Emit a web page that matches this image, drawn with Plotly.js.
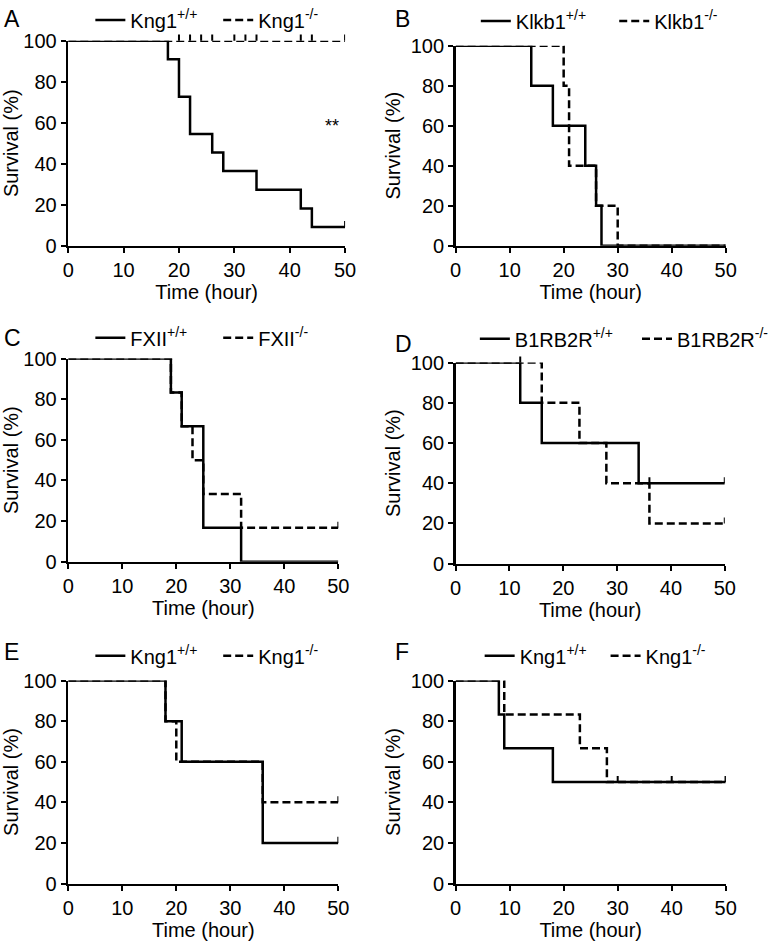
<!DOCTYPE html>
<html>
<head>
<meta charset="utf-8">
<script src="https://cdn.plot.ly/plotly-3.0.1.min.js"></script>
<style>body{margin:0;background:#fff}</style>
</head>
<body>
<div id="chart" style="width:774px;height:941px"></div>
<script>
// survival curves (time in hours, survival in %)
var endTime = 50;

// A
var aWtTime = [0, 18, 20, 22, 26, 28, 34, 42, 44];
var aWtSurv = [100, 90.9, 72.7, 54.5, 45.5, 36.4, 27.3, 18.2, 9.1];
var aWtCens = [50];
var aKoTime = [0];
var aKoSurv = [100];
var aKoCens = [20, 22, 24, 26, 30, 32, 34, 42, 44, 50];

// B
var bWtTime = [0, 14, 18, 24, 26, 27];
var bWtSurv = [100, 80, 60, 40, 20, 0];
var bWtCens = [];
var bKoTime = [0, 20, 21, 26, 30];
var bKoSurv = [100, 80, 40, 20, 0];
var bKoCens = [];

// C
var cWtTime = [0, 19, 21, 25, 32];
var cWtSurv = [100, 83.3, 66.7, 16.7, 0];
var cWtCens = [];
var cKoTime = [0, 19, 21, 23, 25, 32];
var cKoSurv = [100, 83.3, 66.7, 50, 33.3, 16.7];
var cKoCens = [50];

// D
var dWtTime = [0, 12, 16, 34];
var dWtSurv = [100, 80, 60, 40];
var dWtCens = [12, 50];
var dKoTime = [0, 16, 23, 28, 36];
var dKoSurv = [100, 80, 60, 40, 20];
var dKoCens = [36, 50];

// E
var eWtTime = [0, 18, 21, 36];
var eWtSurv = [100, 80, 60, 20];
var eWtCens = [50];
var eKoTime = [0, 18, 20, 36];
var eKoSurv = [100, 80, 60, 40];
var eKoCens = [50];

// F
var fWtTime = [0, 8, 9, 18];
var fWtSurv = [100, 83.3, 66.7, 50];
var fWtCens = [30, 40, 50];
var fKoTime = [0, 9, 23, 28];
var fKoSurv = [100, 83.3, 66.7, 50];
var fKoCens = [50];

var letters = ['A', 'B', 'C', 'D', 'E', 'F'];
var wtNames = ['Kng1<sup>+/+</sup>', 'Klkb1<sup>+/+</sup>', 'FXII<sup>+/+</sup>',
               'B1RB2R<sup>+/+</sup>', 'Kng1<sup>+/+</sup>', 'Kng1<sup>+/+</sup>'];
var koNames = ['Kng1<sup>-/-</sup>', 'Klkb1<sup>-/-</sup>', 'FXII<sup>-/-</sup>',
               'B1RB2R<sup>-/-</sup>', 'Kng1<sup>-/-</sup>', 'Kng1<sup>-/-</sup>'];

var groups = [
  {wt: [aWtTime, aWtSurv, aWtCens], ko: [aKoTime, aKoSurv, aKoCens]},
  {wt: [bWtTime, bWtSurv, bWtCens], ko: [bKoTime, bKoSurv, bKoCens]},
  {wt: [cWtTime, cWtSurv, cWtCens], ko: [cKoTime, cKoSurv, cKoCens]},
  {wt: [dWtTime, dWtSurv, dWtCens], ko: [dKoTime, dKoSurv, dKoCens]},
  {wt: [eWtTime, eWtSurv, eWtCens], ko: [eKoTime, eKoSurv, eKoCens]},
  {wt: [fWtTime, fWtSurv, fWtCens], ko: [fKoTime, fKoSurv, fKoCens]}
];

// pixel boxes of each plot area: [left, right, top, bottom]
var W = 774, H = 941;
var boxes = [
  [71, 359, 32, 239],
  [474, 755, 37, 239],
  [71, 352, 353, 558],
  [474, 754, 357, 560],
  [71, 352, 678, 883],
  [474, 755, 678, 883]
];
// legend sample start (px) for the solid and dashed entries, and row height
var legendWt = [99, 500, 99, 499, 99, 504];
var legendKo = [232, 644, 232, 668, 232, 635];
var legendRow = [11, 12, 332, 333, 653, 653];
var letterPos = [[2, 10], [409, 10], [2, 332], [409, 338], [2, 649], [409, 649]];

var font = 'Liberation Sans, Arial, sans-serif';
var fs = 20;
var tickHeight = 3;   // censor tick, in % units
var headroom = 12;    // px of extra room above 100 for censor ticks

function survBefore(times, surv, t) {
  var v = surv[0];
  for (var i = 0; i < times.length; i++) {
    if (times[i] < t) v = surv[i];
  }
  return v;
}

var data = [];
var layout = {
  width: W, height: H,
  margin: {l: 0, r: 0, t: 0, b: 0},
  paper_bgcolor: '#fff', plot_bgcolor: 'rgba(0,0,0,0)',
  font: {family: font, size: fs, color: '#000'},
  annotations: []
};

function legendBox(px, py) {
  return {
    orientation: 'h', x: (px - 5) / W, y: 1 - py / H,
    xanchor: 'left', yanchor: 'middle',
    bgcolor: 'rgba(0,0,0,0)', borderwidth: 0,
    font: {family: font, size: fs, color: '#000'}
  };
}

groups.forEach(function (g, i) {
  var n = i + 1;
  var xa = 'x' + (n === 1 ? '' : n), ya = 'y' + (n === 1 ? '' : n);
  var yc = 'y' + (n + 6);   // taller hidden axis used for the censor ticks
  var legWt = 'legend' + (2 * i + 1 === 1 ? '' : 2 * i + 1);
  var legKo = 'legend' + (2 * i + 2);
  layout[legWt] = legendBox(legendWt[i], legendRow[i]);
  layout[legKo] = legendBox(legendKo[i], legendRow[i]);

  // dashed first so the solid curve sits on top where they overlap
  var sets = [['ko', 'dash', koNames[i], legKo], ['wt', 'solid', wtNames[i], legWt]];
  sets.forEach(function (s) {
    var d = g[s[0]];
    var times = d[0], surv = d[1], cens = d[2];
    data.push({
      x: times.concat([endTime]),
      y: surv.concat([surv[surv.length - 1]]),
      xaxis: xa, yaxis: ya, legend: s[3], name: s[2],
      mode: 'lines',
      line: {shape: 'hv', color: '#000', width: 2.5, dash: s[1] === 'dash' ? '8px,4px' : 'solid'},
      hoverinfo: 'skip'
    });
    if (cens.length) {
      data.push({
        x: cens,
        y: cens.map(function (t) { return survBefore(times, surv, t); }),
        xaxis: xa, yaxis: yc, showlegend: false,
        mode: 'markers', cliponaxis: false,
        marker: {size: 1, opacity: 0},
        error_y: {
          type: 'data', symmetric: false,
          array: cens.map(function () { return tickHeight; }),
          arrayminus: cens.map(function () { return 0; }),
          width: 0, thickness: 2, color: '#000'
        },
        hoverinfo: 'skip'
      });
    }
  });

  var b = boxes[i];
  var span = b[3] - b[2];
  var axBase = {
    showline: true, linewidth: 2.5, linecolor: '#000',
    showgrid: false, zeroline: false,
    ticks: 'outside', ticklen: 5, tickwidth: 2, tickcolor: '#000',
    tickfont: {family: font, size: fs, color: '#000'}
  };
  layout['xaxis' + (n === 1 ? '' : n)] = Object.assign({}, axBase, {
    domain: [b[0] / W, b[1] / W], anchor: ya,
    range: [0, 50], tick0: 0, dtick: 10,
    title: {text: 'Time (hour)', font: {family: font, size: fs, color: '#000'}, standoff: 3}
  });
  layout['yaxis' + (n === 1 ? '' : n)] = Object.assign({}, axBase, {
    domain: [1 - b[3] / H, 1 - b[2] / H], anchor: xa,
    range: [0, 100], tick0: 0, dtick: 20,
    title: {text: 'Survival (%)', font: {family: font, size: fs, color: '#000'}, standoff: 5}
  });
  layout['yaxis' + (n + 6)] = {
    domain: [1 - b[3] / H, 1 - (b[2] - headroom) / H], anchor: xa,
    range: [0, 100 * (span + headroom) / span],
    visible: false, showgrid: false, zeroline: false
  };

  layout.annotations.push({
    xref: 'paper', yref: 'paper',
    x: letterPos[i][0] / W, y: 1 - letterPos[i][1] / H,
    xanchor: 'left', yanchor: 'middle', showarrow: false,
    text: letters[i], font: {family: font, size: 23, color: '#000'}
  });
});

// significance mark in panel A
layout.annotations.push({
  xref: 'x', yref: 'y', x: 47.6, y: 58.5, showarrow: false,
  text: '**', font: {family: font, size: 18, color: '#000'}
});

Plotly.newPlot('chart', data, layout, {staticPlot: true});
</script>
</body>
</html>
